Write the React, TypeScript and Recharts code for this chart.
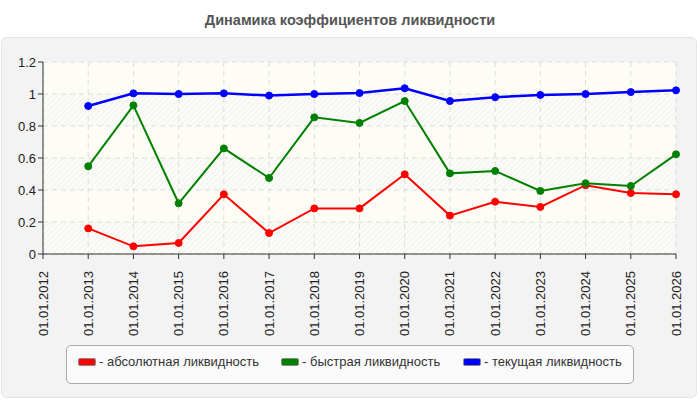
import React from 'react';
import { LineChart, Line, XAxis, YAxis, CartesianGrid } from 'recharts';

const dates = [
  '01.01.2012', '01.01.2013', '01.01.2014', '01.01.2015', '01.01.2016',
  '01.01.2017', '01.01.2018', '01.01.2019', '01.01.2020', '01.01.2021',
  '01.01.2022', '01.01.2023', '01.01.2024', '01.01.2025', '01.01.2026',
];
const absoluteLiquidity = [null, 0.16, 0.048, 0.069, 0.373, 0.131, 0.285, 0.285, 0.498, 0.24, 0.327, 0.294, 0.43, 0.381, 0.373];
const quickLiquidity = [null, 0.548, 0.929, 0.317, 0.66, 0.475, 0.854, 0.819, 0.956, 0.504, 0.519, 0.394, 0.442, 0.425, 0.623];
const currentLiquidity = [null, 0.925, 1.004, 1.0, 1.004, 0.99, 1.0, 1.006, 1.036, 0.956, 0.98, 0.994, 1.0, 1.012, 1.023];
const yTicks = [0, 0.2, 0.4, 0.6, 0.8, 1, 1.2];

const seriesInfo = [
  { key: 'abs', name: '- абсолютная ликвидность', color: '#ff0000', width: 2 },
  { key: 'quick', name: '- быстрая ликвидность', color: '#008000', width: 2 },
  { key: 'cur', name: '- текущая ликвидность', color: '#0000ff', width: 2.5 },
];

const data = dates.map((d, i) => ({
  date: d,
  abs: absoluteLiquidity[i],
  quick: quickLiquidity[i],
  cur: currentLiquidity[i],
}));

const FONT = '"Liberation Sans", Arial, sans-serif';

const XTick = (props: any) => {
  const { x, y, payload } = props;
  const ty = y + 10;
  return (
    <text
      x={x}
      y={ty}
      transform={`rotate(-90, ${x}, ${ty})`}
      textAnchor="end"
      dy="0.35em"
      fontSize={13}
      fill="#222"
      fontFamily={FONT}
    >
      {payload.value}
    </text>
  );
};

const legendLeft = [11, 214, 396];

export default function App() {
  return (
    <div style={{ position: 'absolute', left: 0, top: 0, width: 700, height: 400, background: '#fff', fontFamily: FONT }}>
      <div style={{ position: 'absolute', left: 0, top: 11, width: 700, textAlign: 'center', fontSize: 14.5, fontWeight: 'bold', color: '#555', lineHeight: '18px' }}>
        Динамика коэффициентов ликвидности
      </div>
      <div style={{ position: 'absolute', left: 1, top: 37, width: 694, height: 359, background: '#f3f3f3', border: '1px solid #e2e2e2', borderRadius: 6 }} />
      <div style={{ position: 'absolute', left: 0, top: 0 }}>
        <LineChart width={700} height={400} data={data} margin={{ top: 62, right: 24, bottom: 0, left: 0 }}>
          <defs>
            <pattern id="hatch" width="4" height="4" patternUnits="userSpaceOnUse" patternTransform="rotate(45)">
              <rect width="4" height="4" fill="#fbfbf7" />
              <line x1="0" y1="0" x2="0" y2="4" stroke="#eeeeea" strokeWidth="1.5" />
            </pattern>
          </defs>
          <CartesianGrid
            stroke="#dcdcdc"
            strokeDasharray="5 4"
            horizontalFill={['#fdfdf5', 'url(#hatch)']}
          />
          <XAxis
            dataKey="date"
            height={146}
            interval={0}
            tick={<XTick />}
            tickSize={5}
            axisLine={{ stroke: '#333' }}
            tickLine={{ stroke: '#333' }}
          />
          <YAxis
            width={43}
            domain={[0, 1.2]}
            ticks={yTicks}
            tickFormatter={(v: number) => String(v)}
            tick={{ fontSize: 13, fill: '#222', fontFamily: FONT }}
            tickSize={5}
            axisLine={{ stroke: '#333' }}
            tickLine={{ stroke: '#333' }}
          />
          {seriesInfo.map((s) => (
            <Line
              key={s.key}
              dataKey={s.key}
              name={s.name}
              stroke={s.color}
              strokeWidth={s.width}
              dot={{ r: 3.5, fill: s.color, stroke: s.color, strokeWidth: 1 }}
              activeDot={false}
              isAnimationActive={false}
              connectNulls={false}
            />
          ))}
        </LineChart>
      </div>
      <div style={{ position: 'absolute', left: 66, top: 345, width: 566, height: 37, background: '#fafafa', border: '1px solid #aaa', borderRadius: 5 }}>
        {seriesInfo.map((s, i) => (
          <div key={s.key} style={{ position: 'absolute', left: legendLeft[i], top: 8, display: 'flex', alignItems: 'center', fontSize: 13, color: '#333', whiteSpace: 'nowrap', lineHeight: '16px' }}>
            <span style={{ display: 'inline-block', width: 16, height: 6, background: s.color, border: '1px solid #888', borderRadius: 2, marginRight: 3 }} />
            <span>{s.name}</span>
          </div>
        ))}
      </div>
    </div>
  );
}
